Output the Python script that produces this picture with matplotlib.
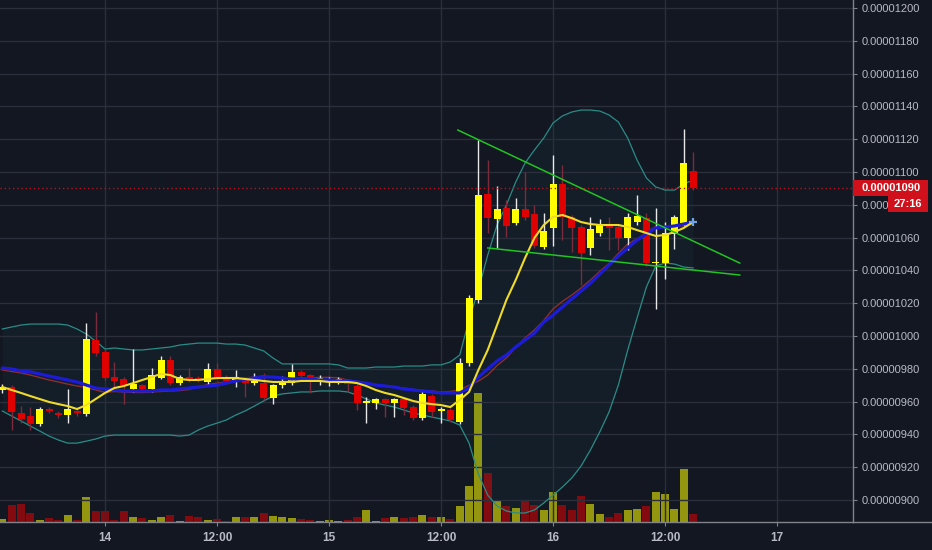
import numpy as np
import pandas as pd
import matplotlib
matplotlib.use("Agg")
import matplotlib.pyplot as plt
import matplotlib.dates as mdates
import matplotlib.transforms as mtransforms
from matplotlib.patches import Rectangle
from matplotlib.lines import Line2D
from matplotlib.ticker import FuncFormatter

plt.rcParams["font.family"] = ["Liberation Sans", "DejaVu Sans"]

# Hourly candles, prices in satoshi (1e-8)
start = "2018-02-13 13:00"

opens = [967, 969, 953.2, 951.2, 946.3, 955.5, 953.1, 951.8, 954.5, 952.4,
         997.6, 990.4, 975.2, 973.8, 967.5, 970.1, 967.7, 974.6, 985.4, 971.3,
         975.0, 974.4, 972.0, 979.9, 975.0, 973.2, 973.2, 971.2, 971.5, 962.0,
         970.1, 971.2, 978.2, 976.2, 972.8, 971.8, 972.0, 972.1, 969.5, 959.3,
         959.3, 961.6, 959.3, 961.4, 956.9, 949.8, 963.4, 954.1, 954.9, 947.7,
         983.5, 1022, 1086.6, 1071.2, 1077.9, 1069.1, 1077.3, 1074.2, 1054.5, 1065.7,
         1092.5, 1072.8, 1066.7, 1053.8, 1062.6, 1067.8, 1066.7, 1059.6, 1069.7, 1071.8,
         1044.3, 1044.3, 1062.2, 1068.7, 1100.6]

highs = [971, 970, 957.3, 956.9, 956.9, 957, 954, 967.7, 956, 1007.7,
         1014.8, 992, 984.3, 975, 991.9, 971, 980.5, 987.8, 987.8, 976,
         980.5, 975.5, 983.5, 983.5, 976, 979.3, 974.5, 977.4, 977.6, 971,
         975.6, 982.7, 979.5, 977, 976.2, 975.2, 975, 973.5, 971, 963,
         962.5, 962.5, 962.5, 962.5, 958, 967.1, 964.5, 956.5, 956, 986.4,
         1025, 1119.5, 1107.3, 1091.5, 1083, 1084.2, 1100.2, 1080, 1075, 1110.4,
         1104.3, 1074, 1068, 1072.8, 1071.4, 1072.8, 1068, 1074.8, 1086, 1075,
         1077.9, 1069.7, 1074, 1126.1, 1112.4]

lows = [965, 942.7, 947, 942.7, 945, 953, 950, 947.1, 951, 951,
        988, 973, 969.1, 958.5, 966, 966.5, 966, 973.5, 970, 970,
        972, 972, 971, 974, 971.5, 968.9, 962.8, 970, 961, 958.5,
        968.3, 970, 975, 965.3, 970.1, 969.5, 970.5, 966, 954.9, 946.8,
        955.5, 950.6, 950.6, 952, 948.5, 948.5, 950.8, 946.8, 947.5, 946.5,
        982, 1020.3, 1062.8, 1053.5, 1060.6, 1067.7, 1071, 1053.5, 1053, 1054.9,
        1058.5, 1051.4, 1031.1, 1049.4, 1061, 1052.4, 1052.4, 1052.4, 1068, 1043,
        1016.3, 1034.6, 1052.9, 1067, 1089]

closes = [969, 953.8, 949.2, 946.3, 955.5, 954.3, 951.8, 955.5, 952.9, 998.2,
          989.5, 974.6, 972.6, 970.1, 970.7, 967.7, 976.2, 985.4, 971.3, 975.0,
          973.5, 973.2, 979.9, 975.2, 972.6, 975.0, 971.2, 972.8, 962.0, 970.1,
          971.3, 978.2, 975.8, 973.2, 974.4, 973.2, 973.6, 970.7, 958.9, 960.5,
          961.4, 959.3, 961.6, 955.9, 949.8, 964.6, 953.8, 955.3, 948.8, 983.4,
          1023.0, 1086, 1072.1, 1077.3, 1067.1, 1077.3, 1072.8, 1054.9, 1064.0, 1092.5,
          1072.8, 1065.7, 1050.4, 1065.1, 1067.7, 1065.9, 1059.6, 1072.8, 1073.2, 1044.3,
          1045.3, 1062.6, 1072.4, 1105.7, 1090]

volumes = [30, 170, 180, 95, 20, 45, 20, 70, 20, 255,
           115, 115, 20, 115, 50, 40, 23, 50, 73, 13,
           63, 47, 23, 30, 10, 50, 47, 50, 93, 63,
           50, 40, 27, 23, 10, 20, 10, 23, 50, 123,
           13, 40, 50, 40, 50, 73, 50, 50, 30, 163,
           357, 1290, 490, 223, 157, 143, 223, 173, 117, 297,
           173, 117, 263, 183, 83, 50, 90, 123, 133, 163,
           297, 277, 133, 533, 83]

ema_fast = [968.9, 967.1, 965.3, 963.4, 961.6, 959.8, 958.5, 957.3, 955.5, 957.9,
            961.6, 965.3, 968.3, 969.5, 971.3, 973.2, 975.0, 976.9, 976.2, 973.8,
            973.2, 973.2, 973.8, 974.4, 974.4, 974.4, 973.8, 973.2, 972.6, 972.0,
            972.0, 972.0, 972.6, 972.6, 972.6, 972.0, 972.0, 972.0, 971.3, 969.5,
            967.1, 965.3, 964.0, 962.2, 960.4, 959.2, 958.5, 957.9, 956.7, 961.0,
            965.9, 979.3, 991.5, 1006.7, 1022.0, 1034.2, 1047.6, 1059.8, 1067.7, 1072.6,
            1073.8, 1071.9, 1069.5, 1068.3, 1067.7, 1067.7, 1067.7, 1066.5, 1064.6, 1062.8,
            1061.0, 1061.6, 1063.4, 1065.9, 1069.5]

ma_slow = [980.5, 979.9, 978.7, 978.1, 976.9, 975.6, 974.4, 973.2, 972.0, 970.1,
           968.3, 967.7, 967.1, 966.5, 966.5, 966.5, 966.5, 967.1, 967.1, 967.7,
           968.3, 968.9, 969.5, 970.1, 971.3, 972.6, 973.8, 974.4, 975.0, 975.0,
           974.4, 973.8, 973.8, 973.8, 973.2, 973.2, 972.6, 972.6, 972.0, 971.3,
           970.1, 969.5, 968.9, 967.7, 967.1, 966.5, 965.9, 965.3, 965.3, 965.3,
           968.3, 975.0, 979.9, 984.8, 988.4, 993.3, 997.6, 1001.8, 1008.5, 1012.8,
           1017.7, 1022.6, 1027.4, 1032.3, 1037.8, 1043.3, 1048.8, 1053.7, 1058.5, 1062.2,
           1065.9, 1066.5, 1067.1, 1068.3, 1069.5]

bb_upper = [1004.3, 1005.5, 1006.7, 1007.3, 1007.3, 1007.3, 1007.3, 1006.7, 1004.3, 1001.2,
            996.9, 992.1, 992.7, 992.1, 991.5, 991.5, 992.1, 992.7, 993.3, 994.5,
            995.1, 995.7, 995.7, 995.7, 995.1, 995.1, 994.5, 992.7, 990.9, 986.6,
            983.0, 983.0, 983.0, 983.0, 983.0, 983.0, 982.4, 980.5, 980.5, 980.5,
            981.1, 981.1, 981.1, 981.7, 981.7, 981.7, 982.4, 982.4, 984.2, 988.4,
            1009.8, 1028.1, 1049.4, 1067.7, 1079.9, 1093.9, 1105.5, 1113.4, 1120.7, 1129.9,
            1134.2, 1136.6, 1137.8, 1137.8, 1137.2, 1134.8, 1130.5, 1120.7, 1107.3, 1096.4,
            1090.9, 1089.0, 1089.0, 1092.7, 1095.1]

bb_lower = [954.3, 951.2, 948.2, 945.1, 942.1, 939.0, 936.6, 934.7, 934.7, 935.9,
            937.2, 939.0, 939.6, 939.6, 939.6, 939.6, 939.6, 939.6, 939.6, 939.0,
            939.6, 942.7, 945.1, 946.9, 948.8, 951.8, 954.3, 957.3, 960.4, 963.4,
            964.7, 965.3, 965.9, 965.9, 966.5, 966.5, 966.5, 965.9, 964.0, 961.6,
            959.2, 957.9, 956.7, 954.9, 953.1, 951.8, 950.6, 949.4, 948.2, 945.7,
            934.7, 915.8, 903.0, 896.3, 893.3, 892.1, 892.1, 893.9, 898.2, 903.0,
            907.9, 913.4, 920.7, 930.5, 941.5, 953.7, 970.2, 991.5, 1011.0, 1029.9,
            1042.7, 1044.5, 1043.9, 1042.1, 1041.5]

bb_basis = [979.3, 978.4, 977.5, 976.2, 974.7, 973.2, 972.0, 970.7, 969.5, 968.6,
            967.1, 965.6, 966.2, 965.9, 965.6, 965.6, 965.9, 966.2, 966.5, 966.8,
            967.4, 969.2, 970.4, 971.3, 972.0, 973.5, 974.4, 975.0, 975.7, 975.0,
            973.9, 974.2, 974.5, 974.5, 974.8, 974.8, 974.5, 973.2, 972.3, 971.1,
            970.2, 969.5, 968.9, 968.3, 967.4, 966.8, 966.5, 965.9, 966.2, 967.1,
            970.0, 972.5, 976.2, 982.0, 986.6, 993.0, 998.8, 1003.7, 1009.5, 1016.5,
            1021.1, 1025.0, 1029.3, 1034.2, 1039.4, 1044.3, 1050.4, 1056.1, 1059.2, 1063.2,
            1066.8, 1066.8, 1066.5, 1067.4, 1068.3]

# Hand-drawn wedge lines: (time, price) end points
wedge_upper_t = ["2018-02-15 13:48", "2018-02-16 20:00"]
wedge_upper_p = [1125.6, 1044.5]
wedge_lower_t = ["2018-02-15 17:00", "2018-02-16 20:00"]
wedge_lower_p = [1053.7, 1037.2]

last_price = 1090
countdown = "27:16"
price_ticks = list(range(900, 1201, 20))
view_start = "2018-02-13 12:45"
view_end = "2018-02-17 08:08"
price_range = (886.6, 1204.9)
volume_range = (0, 5220)

# Styling
BG = "#131722"
GRID = "#2b2f3b"
TEXT = "#b8bbc4"
AXLINE = "#80838c"
UP = "#ffff00"
DOWN = "#e00000"
UP_WICK = "#e8e8e8"
DOWN_WICK = "#7a2c3c"

W, H = 932, 550
fig = plt.figure(figsize=(W / 100, H / 100), dpi=100, facecolor=BG)
rect = [0, 28 / H, 853 / W, 522 / H]
axv = fig.add_axes(rect)
ax = fig.add_axes(rect, sharex=axv)
ax.patch.set_alpha(0)

t = mdates.date2num(pd.date_range(start, periods=len(closes), freq="h"))
hour = 1 / 24
o = np.array(opens)
c = np.array(closes)
up = c >= o

# Volume overlay
axv.bar(t, volumes, width=0.86 * hour, color=np.where(up, UP, DOWN),
        alpha=0.55, linewidth=0)
axv.set_ylim(*volume_range)
axv.axis("off")

# Bollinger bands
ax.fill_between(t, bb_lower, bb_upper, color="#26a69a", alpha=0.05, lw=0, zorder=1)
ax.plot(t, bb_upper, color="#2a8c86", lw=0.9, zorder=2)
ax.plot(t, bb_lower, color="#2a8c86", lw=0.9, zorder=2)
ax.plot(t, bb_basis, color="#8a2f30", lw=1.0, zorder=2)

# Candles
ax.vlines(t, lows, highs, colors=np.where(up, UP_WICK, DOWN_WICK), lw=1.0, zorder=3)
body_h = np.maximum(np.abs(c - o), 0.8)
ax.bar(t, body_h, bottom=np.minimum(o, c), width=0.75 * hour,
       color=np.where(up, UP, DOWN), linewidth=0, zorder=4)

# Moving averages
ax.plot(t, ma_slow, color="#1c1cd8", lw=2.3, zorder=5, solid_capstyle="round")
ax.plot(t, ema_fast, color="#f0dc28", lw=1.5, zorder=6)
ax.plot(t[-1], ma_slow[-1], marker="+", ms=6, mew=1.6, color="#6fa3e0", zorder=7)

# Wedge trend lines
ax.plot(mdates.date2num(pd.to_datetime(wedge_upper_t)), wedge_upper_p,
        color="#22c322", lw=1.1, zorder=7)
ax.plot(mdates.date2num(pd.to_datetime(wedge_lower_t)), wedge_lower_p,
        color="#22c322", lw=1.1, zorder=7)

# Last price line
ax.axhline(last_price, color="#b8101c", lw=1.0, ls=(0, (1, 2)), zorder=6)

ax.set_xlim(mdates.date2num(pd.Timestamp(view_start)),
            mdates.date2num(pd.Timestamp(view_end)))
ax.set_ylim(*price_range)


def price_label(v, pos=None):
    return f"{v * 1e-8:.8f}"


def time_label(x, pos=None):
    d = mdates.num2date(x)
    return str(d.day) if d.hour == 0 else d.strftime("%H:%M")


ax.yaxis.tick_right()
ax.set_yticks(price_ticks)
ax.yaxis.set_major_formatter(FuncFormatter(price_label))
ax.xaxis.set_major_locator(mdates.HourLocator(byhour=[0, 12]))
ax.xaxis.set_major_formatter(FuncFormatter(time_label))
ax.tick_params(axis="y", labelcolor=TEXT, labelsize=8, length=3, pad=3, color=AXLINE)
ax.tick_params(axis="x", labelcolor=TEXT, labelsize=8.5, length=3, pad=4, color=AXLINE)
plt.setp(ax.get_xticklabels(), fontweight="bold")
ax.grid(True, color=GRID, lw=1.0)

for side in ("top", "left"):
    ax.spines[side].set_visible(False)
for side in ("right", "bottom"):
    ax.spines[side].set_color(AXLINE)
    ax.spines[side].set_linewidth(1.0)
fig.add_artist(Line2D([rect[2], 1], [rect[1], rect[1]], color=AXLINE, lw=1.0,
                      transform=fig.transFigure))

# Last price and countdown tags on the price scale
trans = mtransforms.blended_transform_factory(ax.transAxes, ax.transData)
px_h = (price_range[1] - price_range[0]) / (rect[3] * H)
px_w = 1 / (rect[2] * W)
tag_h = 16 * px_h
ax.add_patch(Rectangle((1.0, last_price - tag_h / 2), 75 * px_w, tag_h,
                       transform=trans, clip_on=False, fc="#d0101a", ec="none", zorder=10))
ax.text(1.0 + 9 * px_w, last_price, price_label(last_price), transform=trans,
        ha="left", va="center", color="white", fontsize=8, fontweight="bold",
        clip_on=False, zorder=11)
ax.add_patch(Rectangle((1.0 + 35 * px_w, last_price - 1.5 * tag_h), 40 * px_w, tag_h,
                       transform=trans, clip_on=False, fc="#d0101a", ec="none", zorder=10))
ax.text(1.0 + 55 * px_w, last_price - tag_h, countdown, transform=trans,
        ha="center", va="center", color="white", fontsize=8, fontweight="bold",
        clip_on=False, zorder=11)

fig.savefig("out.png", dpi=100, facecolor=BG)
